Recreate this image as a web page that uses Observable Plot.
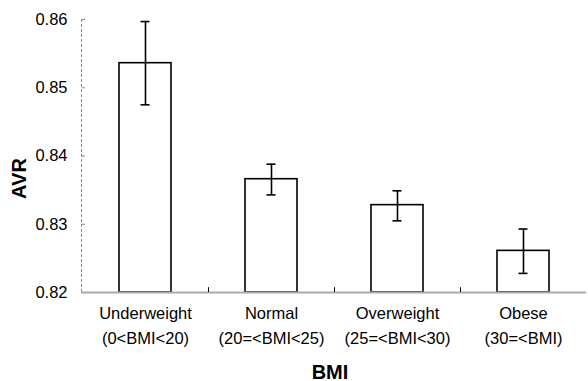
<!DOCTYPE html>
<html><head><meta charset="utf-8">
<script src="https://cdn.jsdelivr.net/npm/d3@7"></script>
<script src="https://cdn.jsdelivr.net/npm/@observablehq/plot@0.6"></script>
<style>body{margin:0;background:#fff;font-family:Arial,"Liberation Sans",sans-serif}</style>
</head><body><div id="chart"></div>
<script>
const categories = ["Underweight", "Normal", "Overweight", "Obese"];
const ranges = ["(0<BMI<20)", "(20=<BMI<25)", "(25=<BMI<30)", "(30=<BMI)"];
const avr = [0.8536, 0.8366, 0.8328, 0.8261];
const errLow = [0.8475, 0.8343, 0.8305, 0.8228];
const errHigh = [0.8597, 0.8388, 0.8349, 0.8293];
const yTicks = [0.82, 0.83, 0.84, 0.85, 0.86];

const data = categories.map((c, i) => ({c, r: ranges[i], v: avr[i], lo: errLow[i], hi: errHigh[i]}));
const font = "Arial, 'Liberation Sans', sans-serif";

const chart = Plot.plot({
  width: 588, height: 381,
  marginLeft: 81, marginRight: 2, marginTop: 19, marginBottom: 89,
  style: {fontFamily: font, background: "#fff", color: "#000"},
  x: {domain: categories, padding: 0, axis: null},
  y: {domain: [0.82, 0.86], axis: null},
  marks: [
    Plot.frame({anchor: "left", stroke: "#888", strokeDasharray: "2,3"}),
    Plot.axisY(yTicks, {tickSize: 0, tickPadding: 14, fontSize: 16.5, tickFormat: d3.format(".2f"), fill: "#000"}),
    Plot.tickY(yTicks, {y: d => d, x: () => categories[0], stroke: "#888", insetLeft: 0, insetRight: 123}),
    Plot.barY(data, {x: "c", y1: 0.82, y2: "v", fill: "#fff", stroke: "#000", strokeWidth: 1.6, insetLeft: 37, insetRight: 37}),
    Plot.ruleX(data, {x: "c", y1: "lo", y2: "hi", stroke: "#000", strokeWidth: 1.6}),
    Plot.tickY(data, {x: "c", y: "lo", stroke: "#000", strokeWidth: 1.6, insetLeft: 58.5, insetRight: 58.5}),
    Plot.tickY(data, {x: "c", y: "hi", stroke: "#000", strokeWidth: 1.6, insetLeft: 58.5, insetRight: 58.5}),
    Plot.ruleY([0.82], {stroke: "#aaa", strokeWidth: 2}),
    Plot.ruleX(categories.slice(1), {x: d => d, y1: 0.82, y2: 0.8207, dx: -63, stroke: "#000", strokeWidth: 1}),
    Plot.text(data, {x: "c", text: "c", frameAnchor: "bottom", dy: 26, fontSize: 16.5, fill: "#000"}),
    Plot.text(data, {x: "c", text: "r", frameAnchor: "bottom", dy: 51, fontSize: 16.5, fill: "#000"}),
    Plot.text(["AVR"], {text: d => d, x: () => categories[0], y: () => 0.8367, dx: -126, rotate: -90, fontSize: 20, fontWeight: "bold", fill: "#000"}),
    Plot.text(["BMI"], {text: d => d, frameAnchor: "bottom", dx: -4, dy: 86, fontSize: 20, fontWeight: "bold", fill: "#000"})
  ]
});
document.getElementById("chart").appendChild(chart);
</script></body></html>
